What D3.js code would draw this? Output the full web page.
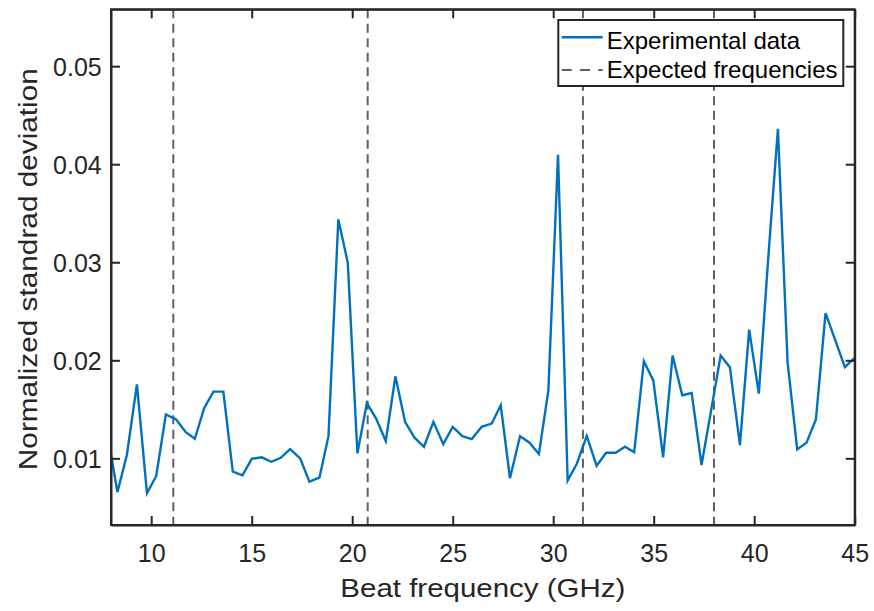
<!DOCTYPE html>
<html>
<head>
<meta charset="utf-8">
<script src="https://cdn.jsdelivr.net/npm/d3@7"></script>
<style>
  html, body { margin: 0; padding: 0; background: #fff; }
  svg { display: block; font-family: "Liberation Sans", Arial, Helvetica, sans-serif; }
</style>
</head>
<body>
<svg id="chart" width="874" height="611"></svg>
<script>
// ---- Data ----
const freqGHz = [8.00, 8.32, 8.79, 9.29, 9.79, 10.25, 10.73, 11.24, 11.71, 12.17,
  12.64, 13.10, 13.59, 14.06, 14.54, 15.01, 15.50, 15.97, 16.43, 16.91,
  17.41, 17.87, 18.37, 18.82, 19.31, 19.78, 20.26, 20.73, 21.19, 21.67,
  22.15, 22.63, 23.09, 23.57, 24.04, 24.53, 25.00, 25.48, 25.95, 26.44,
  26.94, 27.39, 27.85, 28.35, 28.81, 29.29, 29.76, 30.24, 30.72, 31.17,
  31.67, 32.16, 32.63, 33.11, 33.57, 34.03, 34.51, 34.98, 35.47, 35.94,
  36.42, 36.89, 37.38, 37.85, 38.33, 38.79, 39.29, 39.75, 40.23, 40.70,
  41.18, 41.66, 42.14, 42.60, 43.07, 43.55, 44.01, 44.51, 45.00];
const stdDev = [0.01041, 0.00655, 0.01034, 0.01754, 0.00645, 0.00820, 0.01447, 0.01396, 0.01270, 0.01199,
  0.01514, 0.01680, 0.01680, 0.00864, 0.00827, 0.00996, 0.01010, 0.00965, 0.01003, 0.01094,
  0.01000, 0.00762, 0.00803, 0.01226, 0.03437, 0.02996, 0.01051, 0.01564, 0.01406, 0.01176,
  0.01836, 0.01372, 0.01213, 0.01118, 0.01372, 0.01145, 0.01321, 0.01226, 0.01196, 0.01321,
  0.01355, 0.01541, 0.00797, 0.01226, 0.01162, 0.01044, 0.01693, 0.04096, 0.00773, 0.00942,
  0.01229, 0.00922, 0.01057, 0.01057, 0.01118, 0.01061, 0.01991, 0.01795, 0.01010, 0.02049,
  0.01643, 0.01666, 0.00932, 0.01480, 0.02049, 0.01930, 0.01135, 0.02313, 0.01660, 0.03047,
  0.04360, 0.01981, 0.01091, 0.01158, 0.01396, 0.02482, 0.02218, 0.01930, 0.02025];
const expectedFreqs = [11.1, 20.77, 31.48, 38.0];
const xTicks = [10, 15, 20, 25, 30, 35, 40, 45];
const yTicks = [0.01, 0.02, 0.03, 0.04, 0.05];
const xDomain = [8, 45];
const yDomain = [0.0032, 0.0558];
const seriesNames = ["Experimental data", "Expected frequencies"];
const xLabel = "Beat frequency (GHz)";
const yLabel = "Normalized standrad deviation";

// ---- Layout ----
const L = 111, R = 854.7, T = 9.3, B = 525;
const axisColor = "#262626";
const blue = "#0072BD";
const dashColor = "#606060";

const svg = d3.select("#chart");
const x = d3.scaleLinear().domain(xDomain).range([L, R]);
const y = d3.scaleLinear().domain(yDomain).range([B, T]);

svg.append("defs").append("clipPath").attr("id", "clip")
  .append("rect").attr("x", L).attr("y", T).attr("width", R - L).attr("height", B - T);

// expected frequency dashed lines
svg.append("g").attr("clip-path", "url(#clip)")
  .selectAll("line").data(expectedFreqs).join("line")
  .attr("x1", d => x(d)).attr("x2", d => x(d))
  .attr("y1", T).attr("y2", B)
  .attr("stroke", dashColor).attr("stroke-width", 2)
  .attr("stroke-dasharray", "9,5.5");

// data line
const line = d3.line().x((d, i) => x(freqGHz[i])).y(d => y(d));
svg.append("path").datum(stdDev)
  .attr("clip-path", "url(#clip)")
  .attr("d", line)
  .attr("fill", "none").attr("stroke", blue).attr("stroke-width", 2.4)
  .attr("stroke-linejoin", "miter");

// axes
function styleAxis(g) {
  g.selectAll(".domain").attr("stroke", axisColor).attr("stroke-width", 2);
  g.selectAll(".tick line").attr("stroke", axisColor).attr("stroke-width", 2);
  g.selectAll(".tick text").attr("fill", axisColor)
    .style("font-family", '"Liberation Sans", Arial, sans-serif').style("font-size", "25px");
}
const tickLen = 9;
const gx = svg.append("g").attr("transform", `translate(0,${B})`)
  .call(d3.axisBottom(x).tickValues(xTicks).tickSizeInner(-tickLen).tickSizeOuter(0).tickPadding(14)
    .tickFormat(d3.format("d")));
styleAxis(gx);
gx.selectAll(".tick text").attr("y", 36.7).attr("dy", null);

const gxt = svg.append("g").attr("transform", `translate(0,${T})`)
  .call(d3.axisTop(x).tickValues(xTicks).tickSizeInner(-tickLen).tickSizeOuter(0).tickFormat(""));
styleAxis(gxt);

const gy = svg.append("g").attr("transform", `translate(${L},0)`)
  .call(d3.axisLeft(y).tickValues(yTicks).tickSizeInner(-tickLen).tickSizeOuter(0)
    .tickFormat(d3.format(".2f")));
styleAxis(gy);
gy.selectAll(".tick text").attr("x", -9.3).attr("dy", "0.36em");

const gyr = svg.append("g").attr("transform", `translate(${R},0)`)
  .call(d3.axisRight(y).tickValues(yTicks).tickSizeInner(-tickLen).tickSizeOuter(0).tickFormat(""));
styleAxis(gyr);

// box
svg.append("rect").attr("x", L).attr("y", T).attr("width", R - L).attr("height", B - T)
  .attr("fill", "none").attr("stroke", axisColor).attr("stroke-width", 2);

// axis labels
svg.append("text").attr("x", (L + R) / 2).attr("y", 597.3)
  .attr("text-anchor", "middle").attr("fill", axisColor)
  .style("font-size", "26px")
  .attr("textLength", 285).attr("lengthAdjust", "spacingAndGlyphs")
  .text(xLabel);

svg.append("text").attr("transform", `translate(37.3,${(68.3 + 470) / 2}) rotate(-90)`)
  .attr("text-anchor", "middle").attr("fill", axisColor)
  .style("font-size", "26px")
  .attr("textLength", 402).attr("lengthAdjust", "spacingAndGlyphs")
  .text(yLabel);

// legend
const lg = svg.append("g");
lg.append("rect").attr("x", 558.3).attr("y", 20).attr("width", 285).attr("height", 66)
  .attr("fill", "#fff").attr("stroke", axisColor).attr("stroke-width", 2);
lg.append("line").attr("x1", 561.7).attr("x2", 602.7).attr("y1", 37.3).attr("y2", 37.3)
  .attr("stroke", blue).attr("stroke-width", 2.4);
lg.append("line").attr("x1", 561.7).attr("x2", 602.7).attr("y1", 70).attr("y2", 70)
  .attr("stroke", dashColor).attr("stroke-width", 2).attr("stroke-dasharray", "10,8.3");
lg.append("text").attr("x", 606.7).attr("y", 49.3).attr("fill", "#000")
  .style("font-size", "24px").text(seriesNames[0]);
lg.append("text").attr("x", 606.7).attr("y", 78).attr("fill", "#000")
  .style("font-size", "24px").text(seriesNames[1]);
</script>
</body>
</html>
